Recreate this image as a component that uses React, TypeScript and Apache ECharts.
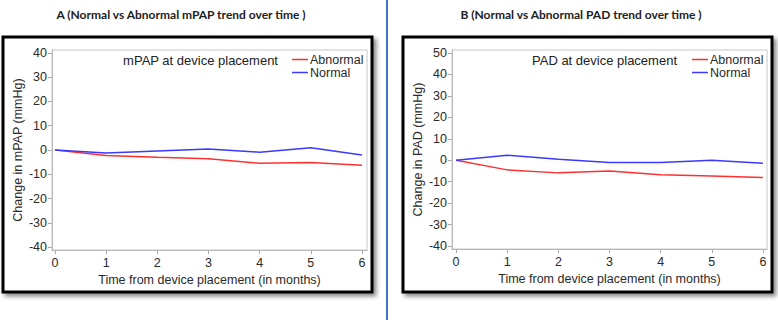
import React, { useEffect, useRef } from "react";
import * as echarts from "echarts";

// Months after device placement
const months = [0, 1, 2, 3, 4, 5, 6];

// Change in mPAP (mmHg)
const mpapAbnormal = [0, -2.3, -3.0, -3.6, -5.5, -5.1, -6.3];
const mpapNormal = [0, -1.2, -0.4, 0.4, -0.9, 0.9, -2.1];

// Change in PAD (mmHg)
const padAbnormal = [0, -4.5, -5.9, -5.0, -6.8, -7.3, -8.1];
const padNormal = [0, 2.3, 0.5, -1.1, -1.1, 0, -1.4];

// Tick labels
const mpapTicks = [-40, -30, -20, -10, 0, 10, 20, 30, 40];
const padTicks = [-40, -30, -20, -10, 0, 10, 20, 30, 40, 50];
const monthTicks = [0, 1, 2, 3, 4, 5, 6];

const RED = "#ff3030";
const BLUE = "#3a3aff";
const AXIS_GRAY = "#a8a8a8";
const SANS = "'Liberation Sans', Arial, sans-serif";
const TITLE_FONT = "Lato, 'Open Sans', sans-serif";

const pairs = (ys: number[]) => months.map((m, i) => [m, ys[i]]);

function xAxisCfg(gridIndex: number, min: number, max: number) {
  return {
    type: "value",
    gridIndex,
    min,
    max,
    name: "Time from device placement (in months)",
    nameLocation: "middle",
    nameGap: 22,
    nameTextStyle: { fontFamily: SANS, fontSize: 12.5, color: "#2a2a2a" },
    axisLine: { show: true, onZero: false, lineStyle: { color: AXIS_GRAY } },
    axisTick: {
      show: true,
      customValues: monthTicks,
      length: 4,
      lineStyle: { color: AXIS_GRAY },
    },
    axisLabel: {
      customValues: monthTicks,
      fontFamily: SANS,
      fontSize: 12.5,
      color: "#2a2a2a",
      margin: 6,
    },
    splitLine: { show: false },
  };
}

function yAxisCfg(gridIndex: number, name: string, min: number, max: number, ticks: number[]) {
  return {
    type: "value",
    gridIndex,
    min,
    max,
    name,
    nameLocation: "middle",
    nameGap: 28,
    nameTextStyle: { fontFamily: SANS, fontSize: 12.5, color: "#2a2a2a" },
    axisLine: { show: true, onZero: false, lineStyle: { color: AXIS_GRAY } },
    axisTick: {
      show: true,
      customValues: ticks,
      length: 4,
      lineStyle: { color: AXIS_GRAY },
    },
    axisLabel: {
      customValues: ticks,
      fontFamily: SANS,
      fontSize: 12.5,
      color: "#2a2a2a",
      margin: 5,
    },
    splitLine: { show: false },
  };
}

function lineSeries(name: string, color: string, data: number[], idx: number) {
  return {
    type: "line",
    name,
    xAxisIndex: idx,
    yAxisIndex: idx,
    data: pairs(data),
    showSymbol: false,
    symbol: "none",
    lineStyle: { color, width: 1.5 },
    itemStyle: { color },
    silent: true,
  };
}

function legendCfg(left: number) {
  return {
    orient: "vertical",
    left,
    top: 53,
    data: ["Abnormal", "Normal"],
    icon: "rect",
    itemWidth: 16,
    itemHeight: 1.5,
    itemGap: 0,
    padding: 0,
    selectedMode: false,
    textStyle: {
      fontFamily: SANS,
      fontSize: 12.5,
      color: "#2a2a2a",
      lineHeight: 13,
      padding: [0, 0, 0, -3],
    },
  };
}

function frame(x: number, y: number, w: number, h: number) {
  return {
    type: "rect",
    z: 0,
    shape: { x, y, width: w, height: h },
    style: {
      fill: "#fff",
      stroke: "#000",
      lineWidth: 3,
      shadowBlur: 4,
      shadowOffsetX: 3,
      shadowOffsetY: 3,
      shadowColor: "rgba(0,0,0,0.45)",
    },
  };
}

function label(x: number, y: number, text: string, font: string, align = "center") {
  return {
    type: "text",
    z: 10,
    x,
    y,
    style: {
      text,
      font,
      fill: "#222",
      textAlign: align,
      textVerticalAlign: "middle",
    },
  };
}

export default function App() {
  const ref = useRef<HTMLDivElement>(null);

  useEffect(() => {
    if (!ref.current) return;
    const chart = echarts.init(ref.current, null, { renderer: "svg" });
    chart.setOption({
      animation: false,
      backgroundColor: "#fff",
      grid: [
        { left: 52, top: 50, width: 315, height: 200, show: true, borderColor: "#c8c8c8", borderWidth: 1, backgroundColor: "transparent", z: 5 },
        { left: 452, top: 50, width: 315, height: 199, show: true, borderColor: "#c8c8c8", borderWidth: 1, backgroundColor: "transparent", z: 5 },
      ],
      xAxis: [xAxisCfg(0, -0.06, 6.1), xAxisCfg(1, -0.08, 6.08)],
      yAxis: [
        yAxisCfg(0, "Change in mPAP (mmHg)", -41.2, 41.2, mpapTicks),
        yAxisCfg(1, "Change in PAD (mmHg)", -41.4, 51.4, padTicks),
      ],
      legend: [legendCfg(292), legendCfg(692)],
      series: [
        lineSeries("Abnormal", RED, mpapAbnormal, 0),
        lineSeries("Normal", BLUE, mpapNormal, 0),
        lineSeries("Abnormal", RED, padAbnormal, 1),
        lineSeries("Normal", BLUE, padNormal, 1),
      ],
      graphic: [
        frame(3, 37, 369, 255),
        frame(403, 37, 369, 255),
        {
          type: "line",
          z: 10,
          shape: { x1: 387, y1: 0, x2: 387, y2: 320 },
          style: { stroke: "#4472c4", lineWidth: 2 },
        },
        label(181, 14, "A (Normal vs Abnormal mPAP trend over time )", `bold 12px ${TITLE_FONT}`),
        label(581, 14, "B (Normal vs Abnormal PAD trend over time )", `bold 12px ${TITLE_FONT}`),
        label(278, 60, "mPAP at device placement", `13px ${SANS}`, "right"),
        label(677, 60, "PAD at device placement", `13px ${SANS}`, "right"),
      ],
    });
    return () => chart.dispose();
  }, []);

  return (
    <div
      ref={ref}
      style={{ position: "fixed", left: 0, top: 0, width: 778, height: 320 }}
    />
  );
}
